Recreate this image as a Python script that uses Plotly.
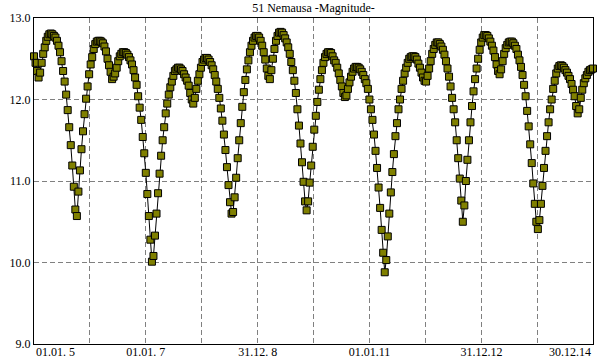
import pandas as pd
import plotly.graph_objects as go

# ---- data ----
start_date = "2005-01-01"
step_days = 10

magnitude = [
    12.53, 12.45, 12.35, 12.27, 12.33, 12.45, 12.56, 12.64, 12.72, 12.77,
    12.80, 12.81, 12.80, 12.78, 12.76, 12.72, 12.66, 12.58, 12.47, 12.35,
    12.22, 12.06, 11.87, 11.66, 11.44, 11.19, 10.93, 10.65, 10.57, 10.87,
    11.13, 11.39, 11.61, 11.82, 12.01, 12.16, 12.31, 12.43, 12.52, 12.62,
    12.68, 12.71, 12.72, 12.72, 12.71, 12.69, 12.65, 12.59, 12.50, 12.42,
    12.34, 12.25, 12.28, 12.32, 12.39, 12.47, 12.53, 12.56, 12.58, 12.58,
    12.57, 12.55, 12.52, 12.48, 12.43, 12.36, 12.27, 12.18, 12.04, 11.90,
    11.75, 11.54, 11.34, 11.10, 10.84, 10.57, 10.28, 10.01, 10.08, 10.33,
    10.60, 10.85, 11.09, 11.31, 11.50, 11.66, 11.83, 11.95, 12.06, 12.15,
    12.22, 12.29, 12.35, 12.37, 12.39, 12.39, 12.37, 12.35, 12.31, 12.27,
    12.23, 12.17, 12.08, 12.00, 11.95, 12.02, 12.13, 12.23, 12.31, 12.39,
    12.46, 12.49, 12.51, 12.51, 12.49, 12.46, 12.42, 12.37, 12.30, 12.22,
    12.13, 12.02, 11.89, 11.74, 11.57, 11.38, 11.17, 10.95, 10.74, 10.60,
    10.62, 10.80, 11.04, 11.28, 11.50, 11.71, 11.91, 12.09, 12.24, 12.37,
    12.48, 12.58, 12.66, 12.72, 12.76, 12.78, 12.78, 12.76, 12.72, 12.66,
    12.58, 12.49, 12.38, 12.29, 12.25, 12.36, 12.50, 12.62, 12.72, 12.78,
    12.82, 12.83, 12.82, 12.79, 12.75, 12.70, 12.64, 12.56, 12.46, 12.36,
    12.23, 12.08, 11.88, 11.68, 11.46, 11.23, 10.99, 10.75, 10.64, 10.75,
    10.98, 11.19, 11.42, 11.63, 11.80, 11.97, 12.12, 12.25, 12.36, 12.45,
    12.52, 12.56, 12.58, 12.58, 12.57, 12.53, 12.48, 12.45, 12.39, 12.32,
    12.24, 12.16, 12.08, 12.03, 12.05, 12.13, 12.21, 12.28, 12.34, 12.38,
    12.40, 12.40, 12.39, 12.37, 12.34, 12.30, 12.25, 12.20, 12.13, 12.00,
    11.88, 11.75, 11.57, 11.37, 11.16, 10.92, 10.67, 10.40, 10.12, 9.88,
    10.03, 10.32, 10.60, 10.86, 11.11, 11.33, 11.55, 11.71, 11.88, 12.00,
    12.13, 12.23, 12.32, 12.39, 12.45, 12.50, 12.52, 12.53, 12.53, 12.52,
    12.49, 12.44, 12.39, 12.33, 12.27, 12.23, 12.22, 12.29, 12.38, 12.47,
    12.56, 12.62, 12.67, 12.70, 12.70, 12.68, 12.65, 12.61, 12.55, 12.47,
    12.38, 12.28, 12.16, 12.02, 11.88, 11.72, 11.50, 11.28, 11.03, 10.76,
    10.50, 10.70, 11.00, 11.26, 11.50, 11.72, 11.92, 12.10, 12.25, 12.38,
    12.50, 12.61, 12.70, 12.76, 12.79, 12.79, 12.78, 12.75, 12.71, 12.66,
    12.60, 12.52, 12.43, 12.35, 12.31, 12.37, 12.47, 12.56, 12.63, 12.67,
    12.70, 12.71, 12.71, 12.69, 12.66, 12.62, 12.55, 12.48, 12.40, 12.30,
    12.18, 12.04, 11.86, 11.67, 11.45, 11.22, 10.97, 10.72, 10.50, 10.41,
    10.52, 10.72, 10.94, 11.16, 11.37, 11.55, 11.72, 11.88, 12.00, 12.13,
    12.23, 12.32, 12.38, 12.41, 12.42, 12.41, 12.39, 12.36, 12.33, 12.29,
    12.25, 12.19, 12.12, 12.04, 11.92, 11.83, 11.88, 12.02, 12.12, 12.20,
    12.26, 12.30, 12.34, 12.36, 12.37, 12.38,
]

grid_dates = ["2006-01-01", "2007-01-01", "2008-01-01", "2009-01-01", "2010-01-01",
              "2011-01-01", "2012-01-01", "2013-01-01", "2014-01-01"]
grid_labels = ["", "01.01. 7", "", "31.12. 8", "", "01.01.11", "", "31.12.12", ""]
first_label = "01.01. 5"
last_label = "30.12.14"

y_ticks = [9.0, 10.0, 11.0, 12.0, 13.0]
y_labels = ["9.0", "10.0", "11.0", "12.0", "13.0"]

title_text = "51 Nemausa -Magnitude-"

# ---- figure ----
dates = pd.date_range(start_date, periods=len(magnitude), freq=f"{step_days}D")

FONT = "Liberation Serif"
GRID = "#808080"

fig = go.Figure()
fig.add_trace(go.Scatter(
    x=dates, y=magnitude, mode="lines+markers",
    line=dict(color="black", width=1),
    marker=dict(symbol="square", size=7, color="#808000",
                line=dict(color="black", width=1)),
    cliponaxis=False, hoverinfo="x+y",
))

fig.update_layout(
    template="none",
    width=600, height=360,
    margin=dict(l=34, r=7, t=18, b=16, autoexpand=False),
    paper_bgcolor="white", plot_bgcolor="white",
    showlegend=False,
    font=dict(family=FONT, size=12, color="black"),
    title=dict(text=title_text, x=0.5, xref="paper", xanchor="center",
               y=1 - 8 / 360, yref="container", yanchor="middle",
               font=dict(family=FONT, size=12, color="black")),
)

fig.update_xaxes(
    type="date", range=[dates[0], dates[-1]], automargin=False,
    tickmode="array", tickvals=grid_dates, ticktext=grid_labels,
    ticklabelstandoff=-3,
    showgrid=True, gridcolor=GRID, gridwidth=1, griddash="5px,3px",
    showline=True, linecolor="black", linewidth=1, mirror=True,
    ticks="", zeroline=False,
    tickfont=dict(family=FONT, size=12, color="black"),
)
fig.update_yaxes(
    range=[9, 13], automargin=False,
    tickmode="array", tickvals=y_ticks, ticktext=y_labels,
    showgrid=True, gridcolor=GRID, gridwidth=1, griddash="5px,3px",
    showline=True, linecolor="black", linewidth=1, mirror=True,
    ticks="", zeroline=False,
    tickfont=dict(family=FONT, size=12, color="black"),
)

fig.add_annotation(x=dates[0], y=0, xref="x", yref="paper", text=first_label,
                   showarrow=False, xanchor="left", yanchor="middle", yshift=-8,
                   font=dict(family=FONT, size=12, color="black"))
fig.add_annotation(x=dates[-1], y=0, xref="x", yref="paper", text=last_label,
                   showarrow=False, xanchor="right", yanchor="middle", yshift=-8,
                   font=dict(family=FONT, size=12, color="black"))

fig.write_html("out.html",
               config={"displayModeBar": False},
               post_script="document.body.style.margin='0';document.body.style.overflow='hidden';")
